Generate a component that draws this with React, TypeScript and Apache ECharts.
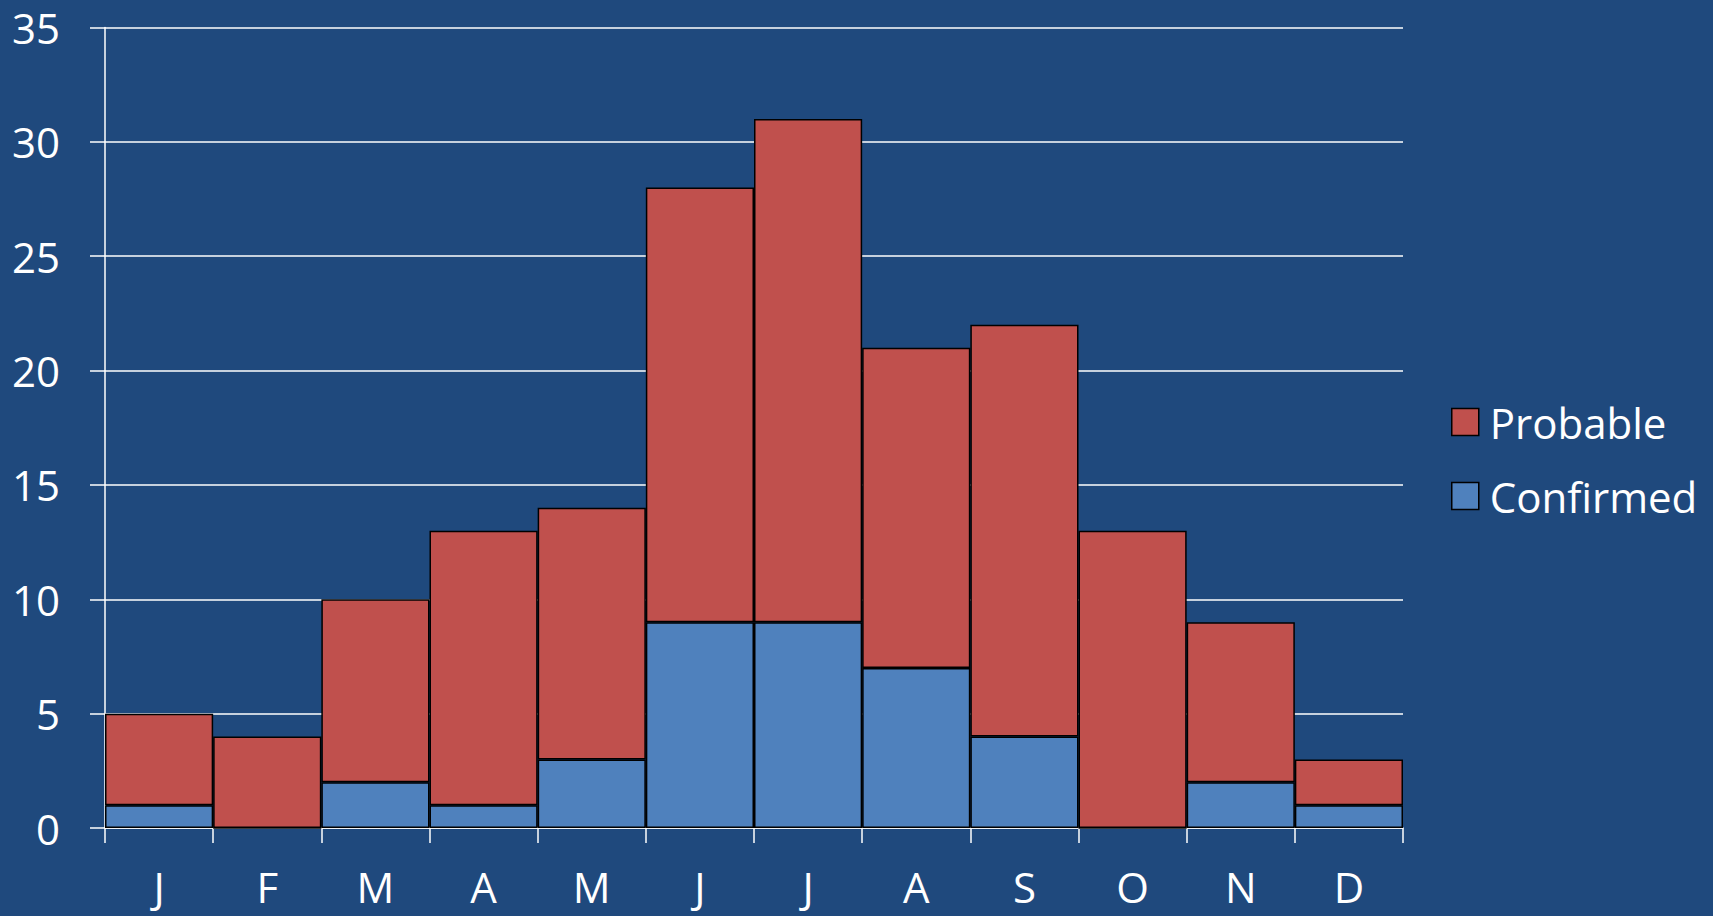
import React, { useEffect, useRef } from "react";
import * as echarts from "echarts";

const months = ["J", "F", "M", "A", "M", "J", "J", "A", "S", "O", "N", "D"];
const confirmed = [1, 0, 2, 1, 3, 9, 9, 7, 4, 0, 2, 1];
const probable = [4, 4, 8, 12, 11, 19, 22, 14, 18, 13, 7, 2];
const yTicks = [0, 5, 10, 15, 20, 25, 30, 35];

const BG = "#1F497D";
const RED = "#C0504D";
const BLUE = "#4F81BD";
const FONT = "'Open Sans', 'Noto Sans', sans-serif";

export default function App() {
  const ref = useRef<HTMLDivElement>(null);
  useEffect(() => {
    if (!ref.current) return;
    const chart = echarts.init(ref.current, undefined, { renderer: "svg" });
    chart.setOption({
      animation: false,
      backgroundColor: BG,
      grid: { left: 105, right: 310, top: 27.5, bottom: 88, containLabel: false },
      legend: {
        orient: "vertical",
        left: 1446,
        top: 396,
        icon: "rect",
        itemWidth: 27,
        itemHeight: 27,
        itemGap: 32,
        data: ["Probable", "Confirmed"],
        textStyle: { color: "#fff", fontSize: 42, fontFamily: FONT, lineHeight: 42, padding: [0, 0, 0, 6] },
        itemStyle: { borderColor: "#000", borderWidth: 1.5 },
      },
      xAxis: {
        type: "category",
        data: months,
        axisLine: { lineStyle: { color: "#fff", width: 1.5 } },
        axisTick: { show: true, length: 15, lineStyle: { color: "#fff", width: 1.5 } },
        axisLabel: { color: "#fff", fontSize: 42, fontFamily: FONT, margin: 37 },
      },
      yAxis: {
        type: "value",
        min: 0,
        max: 35,
        interval: 5,
        axisLine: { show: true, lineStyle: { color: "#fff", width: 1.5 } },
        axisTick: { show: true, length: 15, lineStyle: { color: "#fff", width: 1.5 } },
        splitLine: { show: true, lineStyle: { color: "#fff", width: 1.5 } },
        axisLabel: {
          color: "#fff",
          fontSize: 42,
          fontFamily: FONT,
          margin: 45,
          formatter: (v: number) => (yTicks.includes(v) ? String(v) : ""),
        },
      },
      series: [
        {
          name: "Confirmed",
          type: "bar",
          stack: "total",
          data: confirmed,
          barCategoryGap: "0%",
          itemStyle: { color: BLUE, borderColor: "#000", borderWidth: 1.5 },
        },
        {
          name: "Probable",
          type: "bar",
          stack: "total",
          data: probable,
          barCategoryGap: "0%",
          itemStyle: { color: RED, borderColor: "#000", borderWidth: 1.5 },
        },
      ],
    });
    return () => chart.dispose();
  }, []);
  return <div ref={ref} style={{ width: 1713, height: 916, position: "absolute", left: 0, top: 0 }} />;
}
